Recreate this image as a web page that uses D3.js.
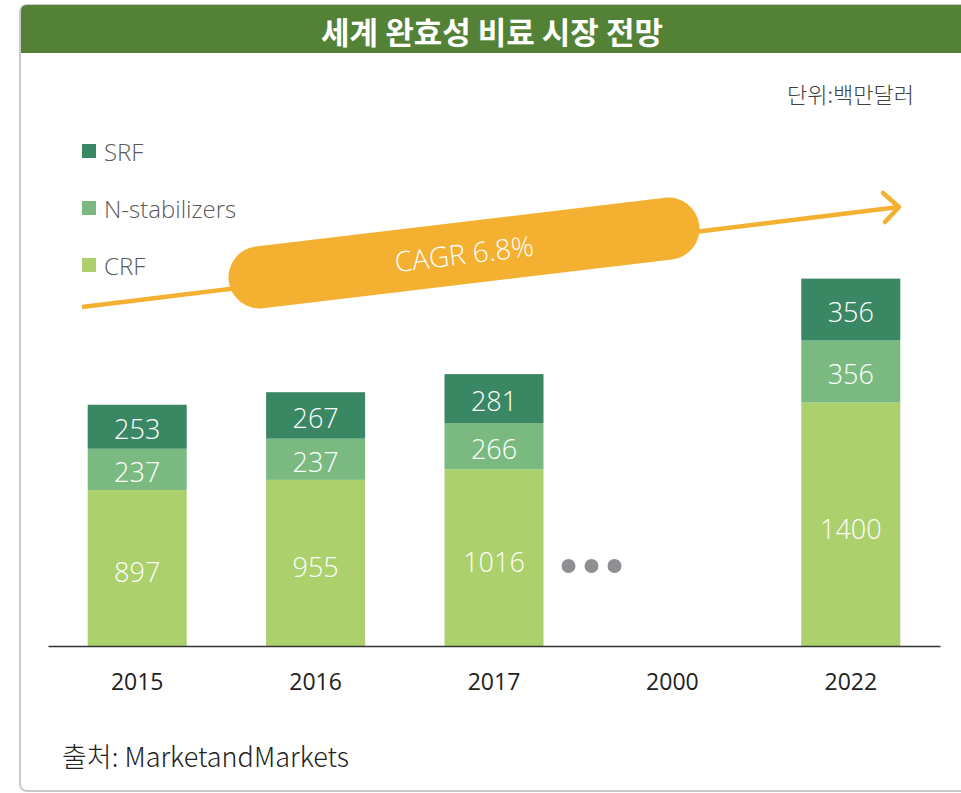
<!DOCTYPE html>
<html>
<head>
<meta charset="utf-8">
<script src="https://cdn.jsdelivr.net/npm/d3@7"></script>
<style>
  body { margin: 0; background: #fff; }
  svg { display: block; font-family: "Open Sans", "Noto Sans", "Noto Sans CJK KR", sans-serif; }
</style>
</head>
<body>
<svg id="canvas"></svg>
<script>
let years = ["2015", "2016", "2017", "2000", "2022"];
let seriesNames = ["CRF", "N-stabilizers", "SRF"];
let crf = [897, 955, 1016, null, 1400];
let nStab = [237, 237, 266, null, 356];
let srf = [253, 267, 281, null, 356];
let legendOrder = ["SRF", "N-stabilizers", "CRF"];
let colors = { "CRF": "#abd06c", "N-stabilizers": "#7aba80", "SRF": "#3a8764" };

let titleText = "세계 완효성 비료 시장 전망";
let unitText = "단위:백만달러";
let sourceText = "출처: MarketandMarkets";
let cagrText = "CAGR 6.8%";

let width = 961;
let height = 793;
let baseY = 646;

let canvas = d3.select("#canvas");
canvas.attr("width", width).attr("height", height);

// rows for stacking
let rows = years.map((y, i) => ({
  year: y,
  "CRF": crf[i] || 0,
  "N-stabilizers": nStab[i] || 0,
  "SRF": srf[i] || 0,
  empty: crf[i] == null
}));

let xScale = d3.scaleBand().domain(years).range([48, 940]).paddingInner(0.445).paddingOuter(0.2225);
let yScale = d3.scaleLinear().domain([0, 2150]).range([baseY, 272]);

// panel frame
let fsKo = '"Noto Sans CJK KR", sans-serif';
canvas.append("rect")
  .attr("x", 20).attr("y", 5)
  .attr("width", 960).attr("height", 786)
  .attr("rx", 7)
  .attr("fill", "#fff")
  .attr("stroke", "#c9c9c9")
  .attr("stroke-width", 2);

canvas.append("path")
  .attr("d", "M21,53 V11 Q21,5 27,5 H961 V53 Z")
  .attr("fill", "#538135");

canvas.append("text")
  .attr("x", 492).attr("y", 30)
  .attr("text-anchor", "middle")
  .attr("dominant-baseline", "central")
  .attr("fill", "#fff")
  .attr("font-family", fsKo)
  .attr("font-weight", 700)
  .attr("font-size", 31)
  .text(titleText);

canvas.append("text")
  .attr("x", 914).attr("y", 93)
  .attr("text-anchor", "end")
  .attr("dominant-baseline", "central")
  .attr("fill", "#404040")
  .attr("font-family", fsKo)
  .attr("font-weight", 300)
  .attr("font-size", 22)
  .text(unitText);

// legend
let legend = canvas.append("g").selectAll("g")
  .data(legendOrder)
  .enter()
  .append("g")
  .attr("transform", (d, i) => "translate(82," + (151 + i * 57) + ")");

legend.append("rect")
  .attr("x", 0).attr("y", -7)
  .attr("width", 14).attr("height", 14)
  .attr("fill", (d) => colors[d]);

legend.append("text")
  .attr("x", 22).attr("y", 0)
  .attr("dominant-baseline", "central")
  .attr("fill", "#595959")
  .attr("font-weight", 300)
  .attr("font-size", 24)
  .text((d) => d);

// CAGR arrow
let arrow = canvas.append("g");
arrow.append("line")
  .attr("x1", 82).attr("y1", 307)
  .attr("x2", 899).attr("y2", 207)
  .attr("stroke", "#f4b131")
  .attr("stroke-width", 4.5);
arrow.append("path")
  .attr("d", "M883,193 L899,207 L885,222")
  .attr("fill", "none")
  .attr("stroke", "#f4b131")
  .attr("stroke-width", 4.5)
  .attr("stroke-linecap", "round")
  .attr("stroke-linejoin", "round");

let capsule = arrow.append("g").attr("transform", "translate(464,253) rotate(-6.8)");
capsule.append("rect")
  .attr("x", -237).attr("y", -31)
  .attr("width", 474).attr("height", 62)
  .attr("rx", 31).attr("ry", 31)
  .attr("fill", "#f4b131");
capsule.append("text")
  .attr("x", 0).attr("y", 0)
  .attr("text-anchor", "middle")
  .attr("dominant-baseline", "central")
  .attr("fill", "#fff")
  .attr("font-weight", 300)
  .attr("font-size", 28)
  .text(cagrText);

// stacked bars
let stack = d3.stack().keys(seriesNames);
let stacked = stack(rows.filter((r) => !r.empty));

let layers = canvas.append("g").selectAll("g")
  .data(stacked)
  .enter()
  .append("g")
  .attr("fill", (d) => colors[d.key]);

layers.selectAll("rect")
  .data((d) => d)
  .enter()
  .append("rect")
  .attr("x", (d) => xScale(d.data.year))
  .attr("y", (d) => yScale(d[1]))
  .attr("width", xScale.bandwidth())
  .attr("height", (d) => yScale(d[0]) - yScale(d[1]));

layers.selectAll("text")
  .data((d) => d.map((p) => ({ p: p, key: d.key })))
  .enter()
  .append("text")
  .attr("x", (d) => xScale(d.p.data.year) + xScale.bandwidth() / 2)
  .attr("y", (d) => (yScale(d.p[0]) + yScale(d.p[1])) / 2 + (d.key == "CRF" ? 4 : 2))
  .attr("text-anchor", "middle")
  .attr("dominant-baseline", "central")
  .attr("fill", "#fff")
  .attr("font-weight", 300)
  .attr("font-size", 27)
  .text((d) => d.p.data[d.key]);

// ellipsis dots after 2017
let dots = [0, 1, 2];
let dotStart = xScale("2017") + xScale.bandwidth() + 25;
canvas.append("g").selectAll("circle")
  .data(dots)
  .enter()
  .append("circle")
  .attr("cx", (d) => dotStart + d * 23)
  .attr("cy", 566)
  .attr("r", 7)
  .attr("fill", "#8e8e93");

// axis
let xAxis = d3.axisBottom(xScale).tickSize(0).tickPadding(28);
let axisG = canvas.append("g")
  .attr("transform", "translate(0," + baseY + ")")
  .call(xAxis);
axisG.select(".domain").attr("stroke", "#333").attr("stroke-width", 1.5);
axisG.selectAll("text")
  .attr("font-family", '"Open Sans", "Noto Sans", sans-serif')
  .attr("font-size", 23)
  .attr("fill", "#222");

canvas.append("text")
  .attr("x", 62).attr("y", 755)
  .attr("dominant-baseline", "central")
  .attr("fill", "#222")
  .attr("font-family", fsKo)
  .attr("font-weight", 300)
  .attr("font-size", 27)
  .text(sourceText);
</script>
</body>
</html>
